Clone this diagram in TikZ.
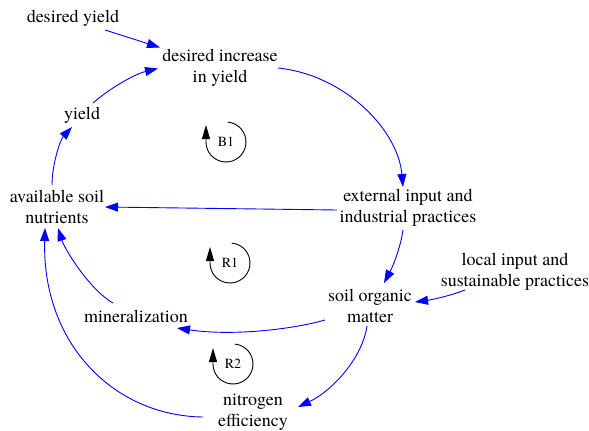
\documentclass[tikz,border=0pt]{standalone}
\usepackage{fontspec}
\newfontfamily\libserif{texgyretermes-regular.otf}
\usetikzlibrary{arrows.meta}
\begin{document}
\begin{tikzpicture}[x=1pt,y=-1pt,
  lbl/.style={align=center,inner sep=0pt,font=\libserif\fontsize{18}{21}\selectfont},
  link/.style={draw=blue,line width=0.9pt,-{Triangle[length=13pt,width=9pt,fill=blue]}},
  loopc/.style={draw=black,line width=0.9pt,-{Triangle[length=14pt,width=8pt]}},
  looplbl/.style={font=\libserif\fontsize{14}{16}\selectfont,inner sep=0pt}]
\useasboundingbox (0,0) rectangle (589,431);
% nodes
\node[lbl] (dy) at (73,18) {desired yield};
\node[lbl] (dinc) at (220,67.5) {desired increase\\in yield};
\node[lbl] (yield) at (82,115) {yield};
\node[lbl] (asn) at (57,207) {available soil\\nutrients};
\node[lbl] (ext) at (408,207.5) {external input and\\industrial practices};
\node[lbl] (local) at (515,272) {local input and\\sustainable practices};
\node[lbl] (som) at (370,306) {soil organic\\matter};
\node[lbl] (min) at (136,316) {mineralization};
\node[lbl] (nit) at (253,412) {nitrogen\\efficiency};
% loop labels
\node[looplbl] (B1) at (226,142) {B1};
\node[looplbl] (R1) at (230,263) {R1};
\node[looplbl] (R2) at (233,364) {R2};
% loop symbols
\draw[loopc] (B1.center) ++(-85:20) arc[start angle=-85,end angle=180,radius=20] -- ++(0,-17);
\draw[loopc] (R1.center) ++(-85:20) arc[start angle=-85,end angle=180,radius=20] -- ++(0,-16);
\draw[loopc] (R2.center) ++(-85:20) arc[start angle=-85,end angle=180,radius=20] -- ++(0,-16);
% connectors
\draw[link] ([shift={(32,12)}]dy.center) -- ([shift={(-60,-20)}]dinc.center);
\draw[link] ([shift={(58,0.5)}]dinc.center) .. controls (345,75) and (398,130) .. ([shift={(-5,-20.5)}]ext.center);
\draw[link] ([shift={(-71,2.5)}]ext.center) -- ([shift={(48,0)}]asn.center);
\draw[link] ([shift={(-5,-22)}]asn.center) .. controls (52,165) and (60,140) .. ([shift={(-10,12)}]yield.center);
\draw[link] ([shift={(11,-12)}]yield.center) .. controls (110,88) and (135,74) .. ([shift={(-62,1)}]dinc.center);
\draw[link] ([shift={(-5,22.5)}]ext.center) .. controls (400,250) and (392,268) .. ([shift={(14,-23)}]som.center);
\draw[link] ([shift={(-50,18)}]local.center) .. controls (450,296) and (430,300) .. ([shift={(45,-4)}]som.center);
\draw[link] ([shift={(-45,14)}]som.center) .. controls (290,330) and (230,336) .. ([shift={(41,12)}]min.center);
\draw[link] ([shift={(-23,-13)}]min.center) .. controls (90,290) and (65,250) .. ([shift={(1,21)}]asn.center);
\draw[link] ([shift={(-3,20)}]som.center) .. controls (362,360) and (330,392) .. ([shift={(45,-5)}]nit.center);
\draw[link] ([shift={(-50,5)}]nit.center) .. controls (115,416) and (42,345) .. ([shift={(-12,21)}]asn.center);
\end{tikzpicture}
\end{document}
